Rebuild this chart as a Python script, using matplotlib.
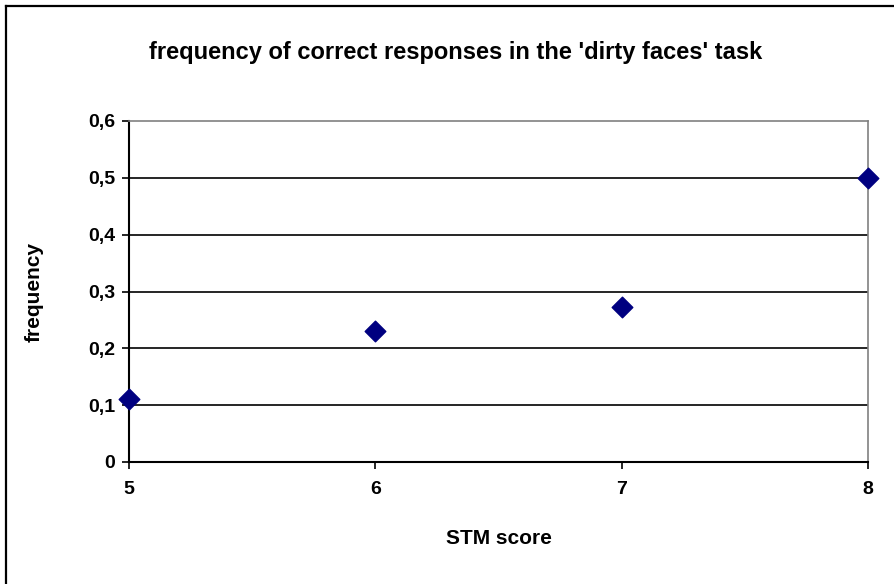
import matplotlib.pyplot as plt
from matplotlib.lines import Line2D

# STM score vs. frequency of correct responses
stm_score = [5, 6, 7, 8]
frequency = [0.11, 0.23, 0.273, 0.5]
y_ticks = [0, 0.1, 0.2, 0.3, 0.4, 0.5, 0.6]
y_labels = ['0', '0,1', '0,2', '0,3', '0,4', '0,5', '0,6']
x_ticks = [5, 6, 7, 8]

plt.rcParams['font.family'] = ['Liberation Sans', 'DejaVu Sans']
plt.rcParams['font.weight'] = 'bold'

W, H = 895, 584
fig = plt.figure(figsize=(W / 100, H / 100), dpi=100)
ax = fig.add_axes([129 / W, 1 - 462 / H, (868 - 129) / W, (462 - 121) / H])

# chart border (left and top edges visible)
fig.lines.append(Line2D([6 / W, 6 / W], [0, 1 - 6 / H], transform=fig.transFigure,
                        color='black', linewidth=1.6))
fig.lines.append(Line2D([6 / W, 1], [1 - 6 / H, 1 - 6 / H], transform=fig.transFigure,
                        color='black', linewidth=1.6))

ax.scatter(stm_score, frequency, marker='D', s=110, color='#000080', zorder=5, clip_on=False)

ax.set_xlim(5, 8)
ax.set_ylim(0, 0.6)
ax.set_yticks(y_ticks)
ax.set_yticklabels(y_labels)
ax.set_xticks(x_ticks)

for y in y_ticks[1:-1]:
    ax.axhline(y, color='black', linewidth=1.2, zorder=1)

ax.spines['left'].set_color('black')
ax.spines['bottom'].set_color('black')
ax.spines['left'].set_linewidth(1.5)
ax.spines['bottom'].set_linewidth(1.5)
ax.spines['top'].set_color('#808080')
ax.spines['right'].set_color('#808080')
ax.spines['top'].set_linewidth(1.2)
ax.spines['right'].set_linewidth(1.2)

ax.tick_params(axis='both', direction='out', length=5, width=1.2, labelsize=14)
ax.tick_params(axis='x', pad=9)
ax.tick_params(axis='y', pad=5)

ax.set_xlabel('STM score', fontsize=15, fontweight='bold', labelpad=22)
ax.set_ylabel('frequency', fontsize=15, fontweight='bold', labelpad=32)
fig.text(456 / W, 1 - 52 / H, "frequency of correct responses in the 'dirty faces' task",
         ha='center', va='center', fontsize=17, fontweight='bold')

plt.savefig('out.png', dpi=100)
